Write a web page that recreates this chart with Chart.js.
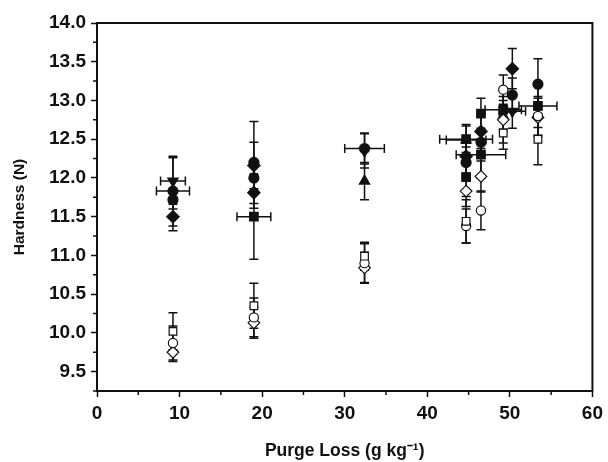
<!DOCTYPE html>
<html><head><meta charset="utf-8">
<script src="https://cdn.jsdelivr.net/npm/chart.js@4/dist/chart.umd.min.js"></script>
<style>html,body{margin:0;padding:0;background:#fff}#wrap{width:608px;height:462px;position:relative}</style>
</head><body><div id="wrap"><canvas id="c" width="608" height="462"></canvas></div>
<script>
// ---- axis ticks ----
const xTickValues = [0, 10, 20, 30, 40, 50, 60];
const yTickValues = [9.5, 10.0, 10.5, 11.0, 11.5, 12.0, 12.5, 13.0, 13.5, 14.0];

// ---- filled square ----
const fSqX  = [19.0, 44.7, 44.7, 46.5, 46.5, 49.2, 53.4];
const fSqY  = [11.50, 12.50, 12.01, 12.83, 12.30, 12.88, 12.93];
const fSqYE = [0.55, 0.17, 0.25, 0.20, 0.30, 0.25, 0.28];
const fSqXE = [2.05, 3.2, 0, 0, 3.0, 2.2, 2.3];
// ---- filled circle ----
const fCiX  = [9.2, 9.2, 19.0, 19.0, 32.4, 44.7, 46.5, 50.3, 53.4];
const fCiY  = [11.83, 11.72, 12.20, 12.00, 12.38, 12.20, 12.46, 13.07, 13.21];
const fCiYE = [0.45, 0.12, 0.53, 0.18, 0.20, 0.20, 0.18, 0.22, 0.33];
const fCiXE = [2.0, 0, 0, 0, 2.4, 0, 0, 0, 0];
// ---- filled triangle up ----
const fTuX  = [32.4, 44.7, 49.2];
const fTuY  = [11.96, 12.49, 12.80];
const fTuYE = [0.24, 0.20, 0.20];
const fTuXE = [0, 2.4, 0];
// ---- filled triangle down ----
const fTdX  = [9.2, 32.4, 50.3];
const fTdY  = [11.96, 12.35, 12.86];
const fTdYE = [0.30, 0.22, 0.22];
const fTdXE = [1.5, 0, 1.6];
// ---- filled diamond ----
const fDiX  = [9.2, 19.0, 19.0, 44.7, 46.5, 50.3];
const fDiY  = [11.50, 12.16, 11.81, 12.28, 12.60, 13.41];
const fDiYE = [0.18, 0.30, 0.20, 0.22, 0.22, 0.26];
const fDiXE = [0, 0, 0, 0, 0, 0];
// ---- open square ----
const oSqX  = [9.2, 19.0, 32.4, 44.7, 49.2, 53.4];
const oSqY  = [10.02, 10.35, 10.99, 11.44, 12.58, 12.50];
const oSqYE = [0.24, 0.29, 0.18, 0.28, 0.21, 0.33];
const oSqXE = [0, 0, 0, 0, 0, 0];
// ---- open circle ----
const oCiX  = [9.2, 19.0, 32.4, 44.7, 46.5, 49.2, 53.4];
const oCiY  = [9.87, 10.20, 10.90, 11.38, 11.58, 13.14, 12.80];
const oCiYE = [0.22, 0.25, 0.25, 0.22, 0.25, 0.19, 0.25];
const oCiXE = [0, 0, 0, 0, 0, 0, 0];
// ---- open diamond ----
const oDiX  = [9.2, 19.0, 32.4, 44.7, 46.5, 49.2, 53.4];
const oDiY  = [9.75, 10.13, 10.84, 11.83, 12.02, 12.75, 12.78];
const oDiYE = [0.12, 0.20, 0.20, 0.20, 0.20, 0.30, 0.25];
const oDiXE = [0, 0, 0, 0, 0, 0, 0];

const INK = '#111';
function pts(X, Y, YE, XE) {
  return X.map((x, i) => ({x: x, y: Y[i], yErr: YE[i], xErr: XE[i]}));
}
function ds(label, X, Y, YE, XE, style, filled, radius, rot) {
  return {
    label: label, data: pts(X, Y, YE, XE), showLine: false,
    pointStyle: style, pointRadius: radius, pointHoverRadius: radius,
    pointRotation: rot || 0,
    backgroundColor: filled ? INK : '#fff', borderColor: INK,
    pointBorderWidth: 1.2
  };
}
const datasets = [
  ds('open square', oSqX, oSqY, oSqYE, oSqXE, 'rect', false, 5.4),
  ds('open circle', oCiX, oCiY, oCiYE, oCiXE, 'circle', false, 4.6),
  ds('open diamond', oDiX, oDiY, oDiYE, oDiXE, 'rectRot', false, 5.8),
  ds('filled square', fSqX, fSqY, fSqYE, fSqXE, 'rect', true, 6.0),
  ds('filled circle', fCiX, fCiY, fCiYE, fCiXE, 'circle', true, 5.0),
  ds('filled triangle up', fTuX, fTuY, fTuYE, fTuXE, 'triangle', true, 6.0),
  ds('filled triangle down', fTdX, fTdY, fTdYE, fTdXE, 'triangle', true, 6.0, 180),
  ds('filled diamond', fDiX, fDiY, fDiYE, fDiXE, 'rectRot', true, 6.2)
];

const errorBars = {
  id: 'errorBars',
  beforeDatasetsDraw(chart) {
    const {ctx, scales: {x, y}} = chart;
    ctx.save();
    ctx.strokeStyle = INK;
    ctx.lineWidth = 1.5;
    const cap = 4.5;
    chart.data.datasets.forEach(d => {
      d.data.forEach(p => {
        const px = x.getPixelForValue(p.x), py = y.getPixelForValue(p.y);
        ctx.beginPath();
        if (p.yErr) {
          const t = y.getPixelForValue(p.y + p.yErr), b = y.getPixelForValue(p.y - p.yErr);
          ctx.moveTo(px, t); ctx.lineTo(px, b);
          ctx.moveTo(px - cap, t); ctx.lineTo(px + cap, t);
          ctx.moveTo(px - cap, b); ctx.lineTo(px + cap, b);
        }
        if (p.xErr) {
          const l = x.getPixelForValue(p.x - p.xErr), r = x.getPixelForValue(p.x + p.xErr);
          ctx.moveTo(l, py); ctx.lineTo(r, py);
          ctx.moveTo(l, py - cap); ctx.lineTo(l, py + cap);
          ctx.moveTo(r, py - cap); ctx.lineTo(r, py + cap);
        }
        ctx.stroke();
      });
    });
    ctx.restore();
  }
};

const frameAndMinor = {
  id: 'frameAndMinor',
  afterDraw(chart) {
    const {ctx, chartArea: a, scales: {x, y}} = chart;
    ctx.save();
    ctx.strokeStyle = INK;
    ctx.lineWidth = 2;
    ctx.strokeRect(a.left, a.top, a.right - a.left, a.bottom - a.top);
    ctx.lineWidth = 1.5;
    ctx.beginPath();
    for (let i = 0; i < xTickValues.length - 1; i++) {
      const px = x.getPixelForValue((xTickValues[i] + xTickValues[i + 1]) / 2);
      ctx.moveTo(px, a.bottom); ctx.lineTo(px, a.bottom + 4);
    }
    for (let i = 0; i < yTickValues.length - 1; i++) {
      const py = y.getPixelForValue((yTickValues[i] + yTickValues[i + 1]) / 2);
      ctx.moveTo(a.left, py); ctx.lineTo(a.left - 4, py);
    }
    const pyLow = y.getPixelForValue(yTickValues[0] - 0.25);
    ctx.moveTo(a.left, pyLow); ctx.lineTo(a.left - 4, pyLow);
    ctx.stroke();
    ctx.restore();
  }
};

const FONT = '"Liberation Sans", Arial, sans-serif';
new Chart(document.getElementById('c'), {
  type: 'scatter',
  data: {datasets: datasets},
  options: {
    responsive: false,
    devicePixelRatio: 1,
    animation: false,
    layout: {padding: {top: 23, right: 15, left: 0, bottom: 0}},
    plugins: {legend: {display: false}, tooltip: {enabled: false}},
    scales: {
      x: {
        type: 'linear', min: 0, max: 60,
        afterBuildTicks: s => { s.ticks = xTickValues.map(v => ({value: v})); },
        afterFit: s => { s.height = 71; },
        ticks: {color: INK, font: {family: FONT, size: 19, weight: 'bold'}, padding: 5, maxRotation: 0,
                callback: v => String(v)},
        grid: {display: true, drawOnChartArea: false, drawTicks: true, tickLength: 6, tickColor: INK, tickWidth: 1.5},
        border: {display: true, color: INK, width: 2},
        title: {display: true, text: 'Purge Loss (g kg\u207B\u00B9)', color: INK,
                font: {family: FONT, size: 17.5, weight: 'bold'}, padding: {top: 0, bottom: 0}}
      },
      y: {
        type: 'linear', min: 9.25, max: 14.0,
        afterBuildTicks: s => { s.ticks = yTickValues.map(v => ({value: v})); },
        afterFit: s => { s.width = 97; },
        ticks: {color: INK, font: {family: FONT, size: 19, weight: 'bold'}, padding: 5,
                callback: v => Number(v).toFixed(1)},
        grid: {display: true, drawOnChartArea: false, drawTicks: true, tickLength: 6, tickColor: INK, tickWidth: 1.5},
        border: {display: true, color: INK, width: 2},
        title: {display: true, text: 'Hardness (N)', color: INK,
                font: {family: FONT, size: 15.5, weight: 'bold'}, padding: {top: 10, bottom: 0}}
      }
    }
  },
  plugins: [errorBars, frameAndMinor]
});
</script>
</body></html>
